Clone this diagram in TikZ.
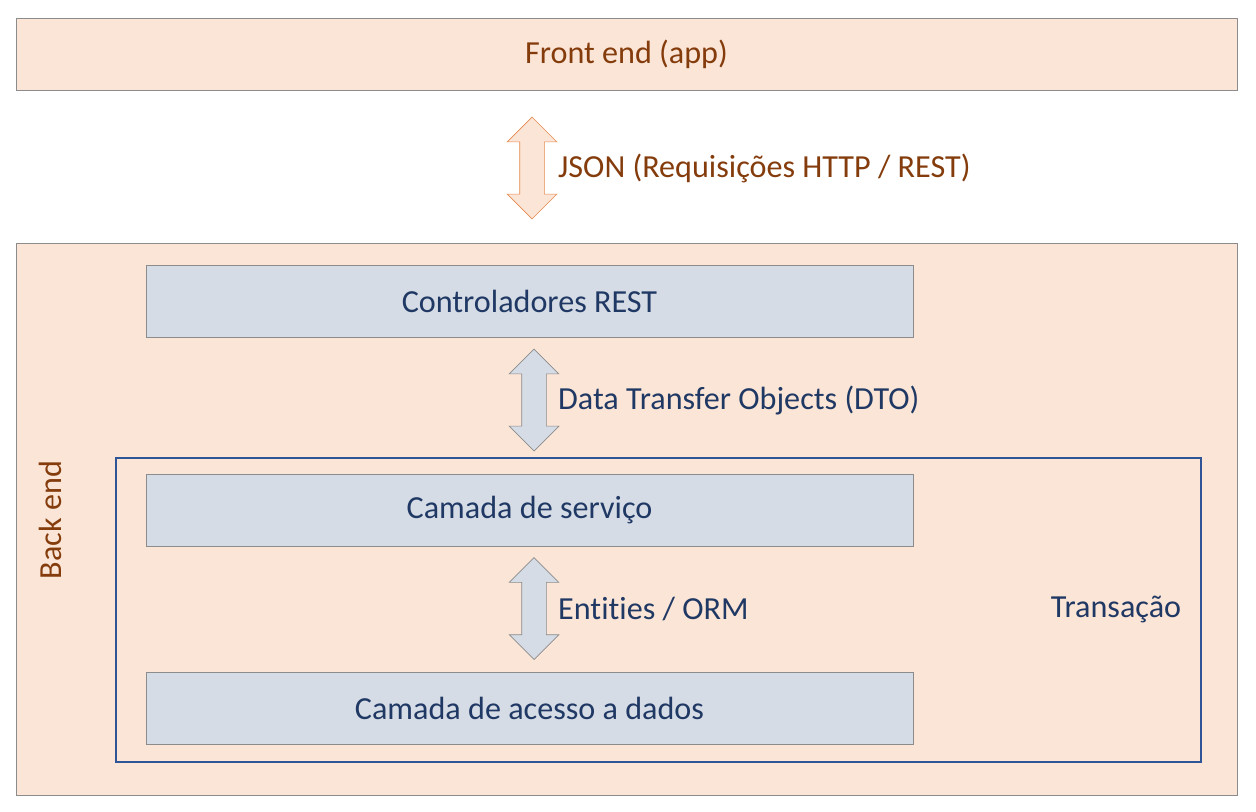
\documentclass[tikz,border=0pt]{standalone}
\usepackage{fontspec}
\setmainfont{Carlito}[Ligatures=NoCommon]
\usepackage{xcolor}
\usetikzlibrary{positioning,shapes.arrows}

\definecolor{peach}{HTML}{FBE5D6}
\definecolor{rust}{HTML}{843C0C}
\definecolor{slate}{HTML}{D6DCE5}
\definecolor{navy}{HTML}{1F3864}
\definecolor{edge}{HTML}{8C8C8C}
\definecolor{orng}{HTML}{E58A4E}
\definecolor{tblue}{HTML}{2F5597}

\begin{document}
\begin{tikzpicture}[x=0.02cm, y=-0.02cm,
    font=\fontsize{18.3}{22}\selectfont,
    layer/.style = {draw=edge, fill=peach, minimum width=24.42cm, inner sep=0},
    tier/.style = {draw=edge, fill=slate, text=navy, minimum width=15.34cm, minimum height=1.44cm},
    dbl/.style = {double arrow, rotate=90, inner xsep=0, inner ysep=0.24cm, minimum height=2.04cm, double arrow head extend=0.25cm}]
    \useasboundingbox (0,0) rectangle (1256,811);

    \node[layer, minimum height=1.44cm, text=rust] (1) at (626.5,54) {Front end (app)};
    \node[layer, minimum height=11.04cm] (2) at (626.5,519) {};
    \node[rotate=90, text=rust] (3) at (50,520) {Back end};

    \node[dbl, draw=orng, fill=peach] (4) at (532,168) {};
    \node[anchor=west, text=rust] at (552,168) {JSON (Requisições HTTP / REST)};

    \node[tier] (5) at (529.5,301) {Controladores REST};
    \node[dbl, draw=edge, fill=slate] (6) at (534,400) {};
    \node[anchor=west, text=navy] at (552,400) {Data Transfer Objects (DTO)};

    \node[draw=tblue, line width=1.2pt, minimum width=21.7cm, minimum height=6.08cm] (7) at (658.5,610) {};
    \node[text=navy] (8) at (1116,609) {Transação};

    \node[tier] (9) at (529.5,510) {Camada de serviço};
    \node[dbl, draw=edge, fill=slate] (10) at (534,608.5) {};
    \node[anchor=west, text=navy] at (552,609) {Entities / ORM};
    \node[tier] (11) at (529.5,708) {Camada de acesso a dados};

\end{tikzpicture}
\end{document}
